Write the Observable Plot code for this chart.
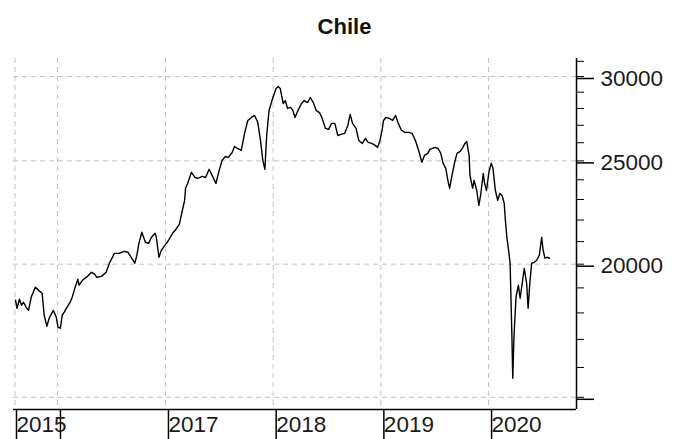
<!DOCTYPE html>
<html><head><meta charset="utf-8">
<script src="https://cdn.jsdelivr.net/npm/d3@7"></script>
<script src="https://cdn.jsdelivr.net/npm/@observablehq/plot@0.6"></script>
<style>
body{margin:0;background:#fff;width:689px;height:439px;overflow:hidden;font-family:"Liberation Sans",Arial,sans-serif;}
#title{height:50px;box-sizing:border-box;padding-top:14px;line-height:26px;text-align:center;font-weight:bold;font-size:22px;color:#111;}
</style></head><body>
<div id="title">Chile</div>
<div id="chart"></div>
<script>
const dates = ["2015-08-12","2015-08-17","2015-08-25","2015-09-01","2015-09-08","2015-09-17","2015-09-25","2015-10-04","2015-10-18","2015-10-29","2015-11-10","2015-11-17","2015-11-26","2015-12-05","2015-12-18","2015-12-28",
"2016-01-03","2016-01-11","2016-01-17","2016-01-24","2016-02-02","2016-02-13","2016-02-20","2016-03-01","2016-03-10","2016-03-14","2016-03-26","2016-04-12","2016-04-25","2016-05-06","2016-05-13","2016-05-29","2016-06-14","2016-06-25","2016-07-12","2016-07-28","2016-08-14","2016-08-27","2016-09-09","2016-09-19","2016-09-26","2016-10-03","2016-10-13","2016-10-25","2016-11-05","2016-11-14","2016-11-27","2016-12-01","2016-12-10","2016-12-18","2016-12-30",
"2017-01-11","2017-01-25","2017-02-03","2017-02-17","2017-02-25","2017-03-07","2017-03-10","2017-03-17","2017-03-30","2017-04-11","2017-04-21","2017-05-05","2017-05-17","2017-05-29","2017-06-08","2017-06-21","2017-07-02","2017-07-12","2017-07-23","2017-08-02","2017-08-15","2017-08-23","2017-09-02","2017-09-15","2017-09-26","2017-10-07","2017-10-19","2017-10-30","2017-11-10","2017-11-19","2017-11-27","2017-12-04","2017-12-10","2017-12-18","2017-12-30",
"2018-01-11","2018-01-18","2018-01-25","2018-02-04","2018-02-11","2018-02-19","2018-03-01","2018-03-09","2018-03-16","2018-03-26","2018-04-07","2018-04-16","2018-04-28","2018-05-07","2018-05-17","2018-05-27","2018-06-07","2018-06-15","2018-06-27","2018-07-08","2018-07-18","2018-07-29","2018-08-08","2018-08-19","2018-08-31","2018-09-11","2018-09-19","2018-09-27","2018-10-09","2018-10-18","2018-10-30","2018-11-10","2018-11-19","2018-12-01","2018-12-13","2018-12-21","2018-12-29",
"2019-01-05","2019-01-10","2019-01-18","2019-01-30","2019-02-10","2019-02-20","2019-03-01","2019-03-12","2019-03-24","2019-04-06","2019-04-17","2019-04-28","2019-05-09","2019-05-20","2019-05-29","2019-06-09","2019-06-16","2019-07-03","2019-07-14","2019-07-23","2019-07-31","2019-08-09","2019-08-16","2019-08-22","2019-08-30","2019-09-08","2019-09-16","2019-09-27","2019-10-06","2019-10-13","2019-10-19","2019-10-27","2019-10-30","2019-11-08","2019-11-13","2019-11-22","2019-11-29","2019-12-05","2019-12-14","2019-12-18","2019-12-25",
"2020-01-02","2020-01-10","2020-01-16","2020-01-24","2020-02-01","2020-02-08","2020-02-16","2020-02-23","2020-02-27","2020-03-03","2020-03-08","2020-03-14","2020-03-20","2020-03-23","2020-03-27","2020-04-03","2020-04-11","2020-04-17","2020-04-24","2020-05-01","2020-05-09","2020-05-14","2020-05-20","2020-05-26","2020-06-04","2020-06-12","2020-06-21","2020-06-29","2020-07-04","2020-07-10","2020-07-17","2020-07-26"];
const values = [18500,18180,18540,18300,18420,18220,18100,18620,19030,18900,18780,17910,17490,17830,18100,17830,
17450,17415,17910,18030,18220,18420,18620,19030,19360,19110,19320,19480,19650,19570,19440,19480,19650,20040,20470,20470,20560,20520,20250,20040,20380,20920,21430,20970,20920,21190,21380,21190,20300,20610,20830,
21050,21380,21520,21800,22320,22960,23560,23810,24390,24120,24070,24180,24120,24550,24230,23810,24490,25030,25240,25190,25460,25790,25680,25570,26530,27280,27460,27580,27160,26130,25030,24550,26410,27870,28610,
29230,29360,29230,28300,28480,28000,28060,27870,27460,27870,28300,28480,28360,28670,28360,27870,27750,27460,26820,26760,27110,27110,26410,26470,26530,26990,27640,27110,26820,26130,25960,26240,26020,25960,25850,25740,26130,
26700,27280,27460,27400,27280,27580,27110,26700,26590,26590,26530,26130,25570,24920,25300,25410,25630,25740,25680,25410,24870,24600,23970,23560,24230,24920,25410,25520,25740,25960,26070,25300,24230,23560,23970,23450,22710,23200,24330,23860,23450,
24390,24870,24600,23450,22960,23300,23200,22810,21990,21190,20700,20040,17150,15630,17080,18620,19110,18580,19190,19820,19190,18180,19230,20040,20080,20170,20390,21190,20610,20260,20300,20260];

const xTickDates = ["2015-08-05","2016-01-01","2017-01-01","2018-01-01","2019-01-01","2020-01-01"];
const xTickLabels = ["2015","","2017","2018","2019","2020"];
const xGridDates = ["2015-08-10","2016-01-01","2017-01-01","2018-01-01","2019-01-01","2020-01-01"];
const yMinorTicks = [15000,16000,17000,18000,19000,20000,21000,22000,23000,24000,25000,26000,27000,28000,29000,30000,31000];
const yMajorTicks = [15000,20000,25000,30000];
const yTickLabels = ["","20000","25000","30000"];
const xDomain = ["2015-08-05","2020-10-25"];
const yDomain = [14610,31190];

const parse = s => new Date(s + "T00:00:00Z");
const data = dates.map((d, i) => ({date: parse(d), value: values[i]}));
const xLabelMap = new Map(xTickDates.map((d, i) => [+parse(d), xTickLabels[i]]));
const yLabelMap = new Map(yMajorTicks.map((v, i) => [v, yTickLabels[i]]));
const xd = xDomain.map(parse);

const gridStyle = {stroke: "#c2c2c2", strokeOpacity: 1, strokeDasharray: "5,4", strokeWidth: 1};

const chart = Plot.plot({
  width: 689,
  height: 389,
  marginTop: 8,
  marginBottom: 30,
  marginLeft: 13,
  marginRight: 113,
  style: {fontFamily: "'Liberation Sans', Arial, sans-serif", fontSize: "22.5px", color: "#1a1a1a", background: "#fff", overflow: "visible"},
  x: {type: "utc", domain: xd},
  y: {type: "log", domain: yDomain},
  marks: [
    Plot.gridY(yMajorTicks, gridStyle),
    Plot.gridX(xGridDates.map(parse), gridStyle),
    Plot.line(data, {x: "date", y: "value", stroke: "#000", strokeWidth: 1.4}),
    Plot.ruleX([xd[1]], {stroke: "#000", strokeWidth: 1.5}),
    Plot.ruleY([yDomain[0]], {stroke: "#000", strokeWidth: 1.5}),
    Plot.axisY(yMinorTicks, {anchor: "right", tickSize: 7, tickFormat: () => "", stroke: "#000", label: null}),
    Plot.axisY(yMajorTicks, {anchor: "right", tickSize: 17, tickPadding: 7, dy: 2, tickFormat: d => yLabelMap.get(d), stroke: "#000", strokeWidth: 1.5, label: null}),
    Plot.axisX(xTickDates.map(parse), {anchor: "bottom", tickSize: 30, tickPadding: -23, textAnchor: "start", dx: 3, tickFormat: d => xLabelMap.get(+d), stroke: "#000", strokeWidth: 1.5, label: null})
  ]
});
document.getElementById("chart").appendChild(chart);
</script>
</body></html>
